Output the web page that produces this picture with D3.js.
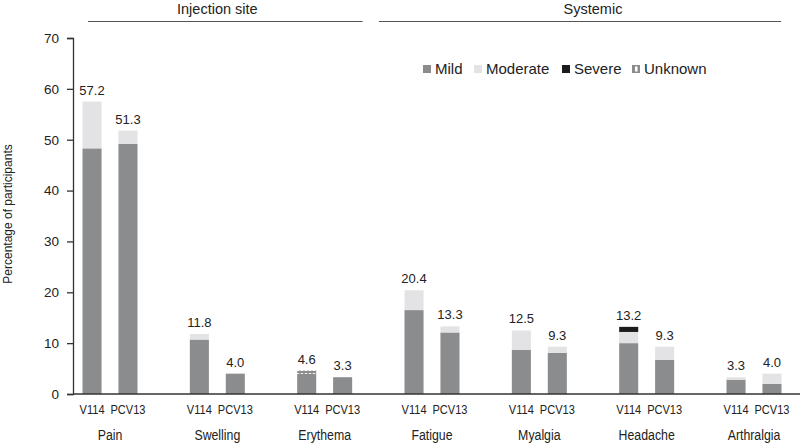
<!DOCTYPE html>
<html>
<head>
<meta charset="utf-8">
<script src="https://cdn.jsdelivr.net/npm/d3@7"></script>
<style>
  body { margin: 0; background: #fff; }
  text { font-family: "Liberation Sans", Arial, sans-serif; fill: #222; }
</style>
</head>
<body>
<div id="chart"></div>
<script>
// Chart data
var categories = ["Pain", "Swelling", "Erythema", "Fatigue", "Myalgia", "Headache", "Arthralgia"];
var vaccines = ["V114", "PCV13"];
var severities = ["Mild", "Moderate", "Severe", "Unknown"];

var mildV114 = [48.3, 10.7, 4.0, 16.5, 8.7, 10.0, 2.8];
var moderateV114 = [9.2, 1.1, 0, 3.9, 3.8, 2.2, 0.5];
var severeV114 = [0, 0, 0, 0, 0, 1.0, 0];
var unknownV114 = [0, 0, 0.6, 0, 0, 0, 0];
var totalV114 = [57.2, 11.8, 4.6, 20.4, 12.5, 13.2, 3.3];

var mildPCV13 = [49.2, 4.0, 3.3, 12.1, 8.1, 6.7, 2.0];
var moderatePCV13 = [2.6, 0, 0, 1.2, 1.2, 2.6, 2.0];
var severePCV13 = [0, 0, 0, 0, 0, 0, 0];
var unknownPCV13 = [0, 0, 0, 0, 0, 0, 0];
var totalPCV13 = [51.3, 4.0, 3.3, 13.3, 9.3, 9.3, 4.0];

var yTicks = [0, 10, 20, 30, 40, 50, 60, 70];
var headers = [
  { label: "Injection site", from: "Pain", to: "Erythema" },
  { label: "Systemic", from: "Fatigue", to: "Arthralgia" }
];

var svgWidth = 800;
var svgHeight = 445;

var svg = d3.select("#chart")
  .append("svg")
  .attr("width", svgWidth)
  .attr("height", svgHeight);

var colors = {
  Mild: "#8b8c8e",
  Moderate: "#e3e3e5",
  Severe: "#1c1c1c",
  Unknown: "url(#unknownPattern)"
};

// dotted pattern for the unknown category
var pattern = svg.append("defs").append("pattern")
  .attr("id", "unknownPattern")
  .attr("patternUnits", "userSpaceOnUse")
  .attr("width", 4)
  .attr("height", 4);
pattern.append("rect").attr("width", 4).attr("height", 4).attr("fill", "#8b8c8e");
pattern.append("rect").attr("x", 1).attr("y", 1).attr("width", 2).attr("height", 2).attr("fill", "#fff");

// Build rows for stacking
var rows = [];
categories.forEach(function(c, i) {
  rows.push({ cat: c, vac: "V114", Mild: mildV114[i], Moderate: moderateV114[i],
              Severe: severeV114[i], Unknown: unknownV114[i], total: totalV114[i] });
  rows.push({ cat: c, vac: "PCV13", Mild: mildPCV13[i], Moderate: moderatePCV13[i],
              Severe: severePCV13[i], Unknown: unknownPCV13[i], total: totalPCV13[i] });
});

var stacked = d3.stack().keys(severities)(rows);

// Scales
var xGroup = d3.scalePoint()
  .domain(categories)
  .range([110, 754]);

var xInner = d3.scaleBand()
  .domain(vaccines)
  .range([-27.5, 27.5])
  .paddingInner(0.47);

var yScale = d3.scaleLinear()
  .domain([0, 70])
  .range([394, 38]);

function barX(d) { return xGroup(d.cat) + xInner(d.vac); }
function barMid(d) { return barX(d) + xInner.bandwidth() / 2; }

// Y axis
var yAxis = d3.axisLeft(yScale)
  .tickValues(yTicks)
  .tickSize(6)
  .tickPadding(8);

var yG = svg.append("g")
  .attr("transform", "translate(73,0)")
  .call(yAxis);
yG.select(".domain").attr("stroke", "#333").attr("stroke-width", 1.3);
yG.selectAll(".tick line").attr("stroke", "#333").attr("stroke-width", 1.3);
yG.selectAll(".tick text")
  .style("font-family", "'Liberation Sans', Arial, sans-serif")
  .style("font-size", "13.5px")
  .attr("fill", "#222");

// Bars
svg.append("g")
  .selectAll("g")
  .data(stacked)
  .enter()
  .append("g")
  .attr("fill", d => colors[d.key])
  .selectAll("rect")
  .data(d => d.map(p => ({ y0: p[0], y1: p[1], cat: p.data.cat, vac: p.data.vac })))
  .enter()
  .filter(d => d.y1 - d.y0 > 0)
  .append("rect")
  .attr("x", d => barX(d))
  .attr("width", xInner.bandwidth())
  .attr("y", d => yScale(d.y1))
  .attr("height", d => yScale(d.y0) - yScale(d.y1));

// X axis line
svg.append("line")
  .attr("x1", 73).attr("x2", 800)
  .attr("y1", yScale(0)).attr("y2", yScale(0))
  .attr("stroke", "#333")
  .attr("stroke-width", 1.5);

// Value labels
svg.append("g")
  .selectAll("text")
  .data(rows)
  .enter()
  .append("text")
  .attr("x", d => barMid(d))
  .attr("y", d => yScale(d.Mild + d.Moderate + d.Severe + d.Unknown) - 7)
  .attr("text-anchor", "middle")
  .style("font-size", "13px")
  .text(d => d.total.toFixed(1));

// Vaccine tick labels (condensed look)
svg.append("g")
  .selectAll("text")
  .data(rows)
  .enter()
  .append("text")
  .attr("transform", d => `translate(${barMid(d)},414) scale(0.82,1)`)
  .attr("text-anchor", "middle")
  .style("font-size", "13.5px")
  .text(d => d.vac);

// Category labels
svg.append("g")
  .selectAll("text")
  .data(categories)
  .enter()
  .append("text")
  .attr("transform", d => `translate(${xGroup(d)},440) scale(0.85,1)`)
  .attr("text-anchor", "middle")
  .style("font-size", "14.5px")
  .text(d => d);

// Header groups
var headerPad = { "Injection site": [-22, 38], "Systemic": [-53, 27] };
var hG = svg.append("g");
headers.forEach(function(h) {
  var x1 = xGroup(h.from) + headerPad[h.label][0];
  var x2 = xGroup(h.to) + headerPad[h.label][1];
  hG.append("line")
    .attr("x1", x1).attr("x2", x2)
    .attr("y1", 21.5).attr("y2", 21.5)
    .attr("stroke", "#555")
    .attr("stroke-width", 1);
  hG.append("text")
    .attr("x", (xGroup(h.from) + xGroup(h.to)) / 2)
    .attr("y", 13.5)
    .attr("text-anchor", "middle")
    .style("font-size", "14.5px")
    .text(h.label);
});

// Legend
var legendX = [423, 474, 562, 632];
var legend = svg.append("g");
severities.forEach(function(s, i) {
  if (s === "Unknown") {
    legend.append("rect")
      .attr("x", legendX[i]).attr("y", 65)
      .attr("width", 8).attr("height", 8)
      .attr("fill", "#8b8c8e");
    legend.append("rect")
      .attr("x", legendX[i] + 3).attr("y", 66.5)
      .attr("width", 2.5).attr("height", 5)
      .attr("fill", "#fff");
  } else {
    legend.append("rect")
      .attr("x", legendX[i]).attr("y", 65)
      .attr("width", 8).attr("height", 8)
      .attr("fill", colors[s]);
  }
  legend.append("text")
    .attr("x", legendX[i] + 12)
    .attr("y", 74)
    .style("font-size", "15px")
    .text(s);
});

// Y axis title
svg.append("text")
  .attr("transform", "translate(12,214) rotate(-90)")
  .attr("text-anchor", "middle")
  .style("font-size", "12px")
  .text("Percentage of participants");
</script>
</body>
</html>
